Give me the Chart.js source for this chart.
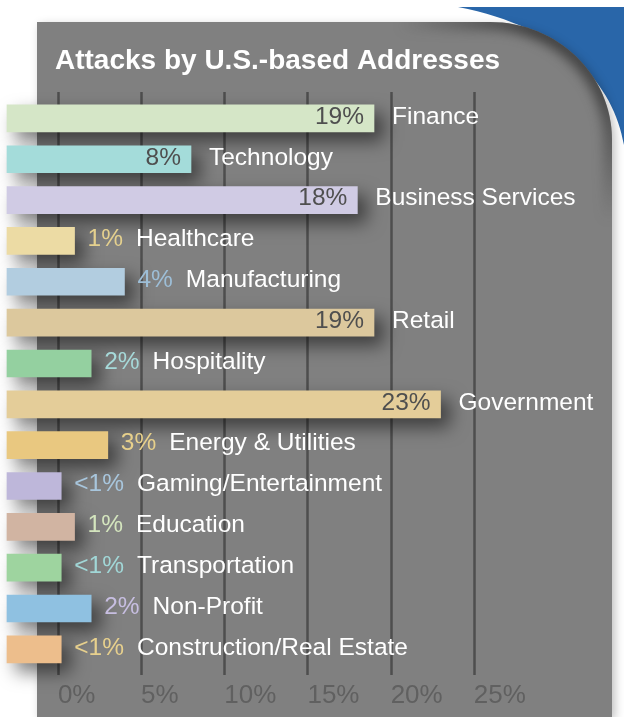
<!DOCTYPE html>
<html>
<head>
<meta charset="utf-8">
<title>Attacks by U.S.-based Addresses</title>
<script src="https://cdn.jsdelivr.net/npm/chart.js@4.4.1/dist/chart.umd.min.js"></script>
<style>
  html, body { margin: 0; padding: 0; background: #fff; }
  #attacks { display: block; }
</style>
</head>
<body>
<canvas id="attacks" width="624" height="717"></canvas>
<script>
// share of attacks per sector, in percent (<1% entries kept as small estimates)
const sectors = [
  "Finance", "Technology", "Business Services", "Healthcare", "Manufacturing",
  "Retail", "Hospitality", "Government", "Energy & Utilities",
  "Gaming/Entertainment", "Education", "Transportation", "Non-Profit",
  "Construction/Real Estate"
];
const shares = [19, 8, 18, 1, 4, 19, 2, 23, 3, 0.2, 1, 0.2, 2, 0.2];
const barColors = [
  "#d5e6c7", "#a4dcda", "#d0cbe4", "#ecdba4", "#b2cde0",
  "#dcc89d", "#94d0a0", "#e4cd99", "#e9c880",
  "#beb7da", "#d1b4a2", "#9ed49f", "#8fc1e1", "#edbe8c"
];
// colour of the percentage when it sits outside a short bar
const outsideLabelColors = [
  "#4f4f4f", "#4f4f4f", "#4f4f4f", "#e4d08e", "#9dbed7",
  "#4f4f4f", "#a6d9d9", "#4f4f4f", "#e7d08b",
  "#a8c6dd", "#d4e5be", "#a1d7d7", "#c7bee1", "#e7d08d"
];
const axisTicks = [0, 5, 10, 15, 20, 25];

const FONT = '"Liberation Sans", Arial, Helvetica, sans-serif';
const BAR_START = -3.06;

function shareText(v) {
  return v < 1 ? "<1%" : v + "%";
}

// grey card with the rounded top-right corner and the blue swoosh behind it
const cardBackdrop = {
  id: "cardBackdrop",
  beforeDraw(chart) {
    const ctx = chart.ctx;
    ctx.save();
    ctx.fillStyle = "#fff";
    ctx.fillRect(0, 0, chart.width, chart.height);

    ctx.fillStyle = "#2966a9";
    ctx.beginPath();
    ctx.moveTo(458, 7);
    ctx.lineTo(624, 7);
    ctx.lineTo(624, 145);
    ctx.bezierCurveTo(614, 85, 565, 28, 458, 7);
    ctx.closePath();
    ctx.fill();

    const card = new Path2D();
    card.moveTo(37, 22);
    card.lineTo(490, 22);
    card.bezierCurveTo(490 + 122 * 0.552, 22, 612, 140 - 118 * 0.552, 612, 140);
    card.lineTo(612, 717);
    card.lineTo(37, 717);
    card.closePath();

    ctx.save();
    ctx.shadowColor = "rgba(0,0,0,0.25)";
    ctx.shadowBlur = 10;
    ctx.shadowOffsetX = 3;
    ctx.shadowOffsetY = 3;
    ctx.fillStyle = "#808080";
    ctx.fill(card);
    ctx.restore();

    // darker rim just inside the curved corner, fading out at both ends
    ctx.save();
    ctx.clip(card);
    ctx.filter = "blur(6px)";
    const rim = ctx.createLinearGradient(400, 22, 612, 220);
    rim.addColorStop(0, "rgba(45,45,45,0)");
    rim.addColorStop(0.35, "rgba(45,45,45,0.8)");
    rim.addColorStop(0.7, "rgba(45,45,45,0.7)");
    rim.addColorStop(1, "rgba(45,45,45,0)");
    ctx.strokeStyle = rim;
    ctx.lineWidth = 16;
    ctx.beginPath();
    ctx.moveTo(400, 22);
    ctx.lineTo(490, 22);
    ctx.bezierCurveTo(490 + 122 * 0.552, 22, 612, 140 - 118 * 0.552, 612, 140);
    ctx.lineTo(612, 220);
    ctx.stroke();
    ctx.restore();

    ctx.fillStyle = "#fff";
    ctx.font = "bold 28px " + FONT;
    ctx.textBaseline = "alphabetic";
    ctx.textAlign = "left";
    ctx.fillText("Attacks by U.S.-based Addresses", 55, 69);
    ctx.restore();
  }
};

// vertical rules at each tick, then a soft drop shadow for the bars
const barShadow = {
  id: "barShadow",
  beforeDatasetsDraw(chart) {
    const ctx = chart.ctx;
    const xs = chart.scales.x;
    ctx.save();
    ctx.strokeStyle = "#4e4e4e";
    ctx.lineWidth = 2.5;
    xs.ticks.forEach(t => {
      const px = Math.round(xs.getPixelForValue(t.value)) + 0.5;
      ctx.beginPath();
      ctx.moveTo(px, 92);
      ctx.lineTo(px, 675);
      ctx.stroke();
    });
    ctx.restore();

    ctx.save();
    ctx.shadowColor = "rgba(0,0,0,0.52)";
    ctx.shadowBlur = 18;
    ctx.shadowOffsetX = 9;
    ctx.shadowOffsetY = 9;
  },
  afterDatasetsDraw(chart) {
    chart.ctx.restore();
  }
};

// percentage and sector name next to every bar
const barLabels = {
  id: "barLabels",
  afterDatasetsDraw(chart) {
    const ctx = chart.ctx;
    const meta = chart.getDatasetMeta(0);
    ctx.save();
    ctx.font = "24.5px " + FONT;
    ctx.textBaseline = "middle";
    meta.data.forEach((bar, i) => {
      const v = shares[i];
      const txt = shareText(v);
      const y = bar.y - 1.5;
      if (v >= 8) {
        ctx.textAlign = "right";
        ctx.fillStyle = "#4f4f4f";
        ctx.fillText(txt, bar.x - 10, y);
        ctx.textAlign = "left";
        ctx.fillStyle = "#fff";
        ctx.fillText(sectors[i], bar.x + 18, y);
      } else {
        ctx.textAlign = "left";
        ctx.fillStyle = outsideLabelColors[i];
        ctx.fillText(txt, bar.x + 13, y);
        const w = ctx.measureText(txt).width;
        ctx.fillStyle = "#fff";
        ctx.fillText(sectors[i], bar.x + 13 + w + 13, y);
      }
    });
    ctx.restore();
  }
};

new Chart(document.getElementById("attacks"), {
  type: "bar",
  data: {
    labels: sectors,
    datasets: [{
      data: shares,
      base: BAR_START,
      backgroundColor: barColors,
      borderWidth: 0,
      barThickness: 27,
      clip: false
    }]
  },
  options: {
    indexAxis: "y",
    responsive: false,
    animation: false,
    devicePixelRatio: 1,
    layout: { padding: { left: 7, right: 67, top: 98, bottom: -4 } },
    plugins: {
      legend: { display: false },
      tooltip: { enabled: false },
      title: { display: false }
    },
    scales: {
      x: {
        type: "linear",
        min: BAR_START,
        max: 30,
        afterBuildTicks: scale => {
          scale.ticks = axisTicks.map(v => ({ value: v }));
        },
        grid: { display: false, drawTicks: false },
        border: { display: false },
        ticks: {
          align: "start",
          padding: 10,
          color: "#606060",
          font: { family: FONT, size: 26 },
          callback: v => v + "%"
        }
      },
      y: {
        type: "category",
        display: false
      }
    }
  },
  plugins: [cardBackdrop, barShadow, barLabels]
});
</script>
</body>
</html>
